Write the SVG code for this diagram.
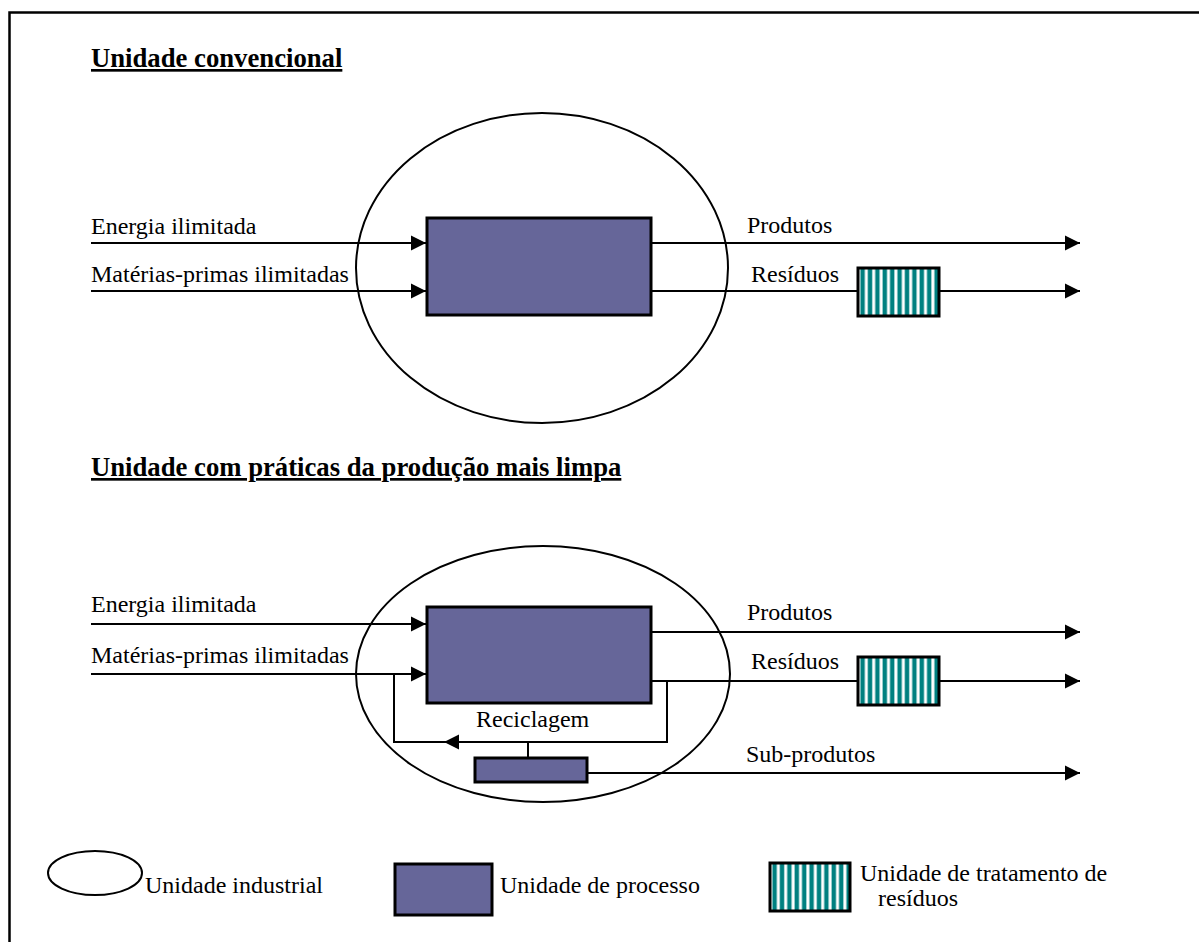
<svg xmlns="http://www.w3.org/2000/svg" width="1199" height="942" viewBox="0 0 1199 942">
  <style>
    .t { font-family: "Liberation Serif", "Times New Roman", serif; font-size: 24px; fill: #000; }
    .h { font-family: "Liberation Serif", "Times New Roman", serif; font-size: 26.7px; font-weight: bold; fill: #000; text-decoration: underline; }
    .ln { fill: none; stroke: #000; stroke-width: 2; }
    .arr { fill: none; stroke: #000; stroke-width: 2; marker-end: url(#ah); }
    .unit { fill: none; stroke: #000; stroke-width: 2; }
    .proc { fill: #666699; stroke: #000; stroke-width: 3; }
    .treat { fill: url(#stripes); stroke: #000; stroke-width: 3; }
  </style>
  <defs>
    <marker id="ah" markerUnits="userSpaceOnUse" markerWidth="16" markerHeight="16" refX="15" refY="8" orient="auto">
      <path d="M0,0.5 L15,8 L0,15.5 z" fill="#000"/>
    </marker>
    <pattern id="stripes" patternUnits="userSpaceOnUse" x="858" y="0" width="7.4" height="10">
      <rect width="7.4" height="10" fill="#fff"/>
      <rect x="2.4" width="4.4" height="10" fill="#008080"/>
    </pattern>
    <pattern id="stripesL" patternUnits="userSpaceOnUse" x="770" y="0" width="7.4" height="10">
      <rect width="7.4" height="10" fill="#fff"/>
      <rect x="2.4" width="4.4" height="10" fill="#008080"/>
    </pattern>
  </defs>

  <rect width="1199" height="942" fill="#fff"/>

  <!-- frame: top and left edges -->
  <path d="M9.5,942 V12.5 H1199" fill="none" stroke="#000" stroke-width="2.5"/>

  <!-- section titles -->
  <text class="h" x="91" y="67">Unidade convencional</text>
  <text class="h" x="91" y="476">Unidade com práticas da produção mais limpa</text>

  <!-- conventional unit -->
  <g id="unit-conventional">
    <ellipse class="unit" cx="542" cy="268" rx="186" ry="155"/>
  </g>
  <g id="process-conventional">
    <rect class="proc" x="427" y="218" width="224" height="97"/>
  </g>
  <g id="treatment-conventional">
    <rect class="treat" x="858" y="268" width="81" height="48"/>
  </g>

  <!-- cleaner-production unit -->
  <g id="unit-clean">
    <ellipse class="unit" cx="543" cy="674" rx="187" ry="128"/>
  </g>
  <g id="process-clean">
    <rect class="proc" x="427" y="607" width="224" height="96"/>
  </g>
  <g id="treatment-clean">
    <rect class="treat" x="858" y="657" width="81" height="48"/>
  </g>
  <g id="byproduct-unit">
    <rect class="proc" x="475" y="758" width="112" height="24" stroke-width="2.5"/>
  </g>

  <!-- connectors -->
  <g id="connectors">
    <!-- conventional flows -->
    <path class="arr" d="M91,243 H426"/>
    <path class="arr" d="M91,291 H426"/>
    <path class="arr" d="M652,243 H1080"/>
    <path class="ln" d="M652,291 H858"/>
    <path class="arr" d="M939,291 H1080"/>

    <!-- cleaner-production flows -->
    <path class="arr" d="M91,624 H426"/>
    <path class="arr" d="M91,674 H426"/>
    <path class="arr" d="M652,632 H1080"/>
    <path class="ln" d="M652,681 H858"/>
    <path class="arr" d="M939,681 H1080"/>

    <!-- recycling loop -->
    <path class="arr" d="M667,681 V742 H444"/>
    <path class="ln" d="M445,742 H394 V674"/>
    <path class="ln" d="M528,742 V758"/>

    <!-- by-products -->
    <path class="arr" d="M587,773 H1080"/>
  </g>

  <!-- flow labels -->
  <text class="t" x="91" y="234">Energia ilimitada</text>
  <text class="t" x="91" y="282">Matérias-primas ilimitadas</text>
  <text class="t" x="747" y="233">Produtos</text>
  <text class="t" x="751" y="282">Resíduos</text>

  <text class="t" x="91" y="612">Energia ilimitada</text>
  <text class="t" x="91" y="663">Matérias-primas ilimitadas</text>
  <text class="t" x="747" y="620">Produtos</text>
  <text class="t" x="751" y="669">Resíduos</text>
  <text class="t" x="476" y="727">Reciclagem</text>
  <text class="t" x="746" y="762">Sub-produtos</text>

  <!-- legend -->
  <g id="legend-unit">
    <ellipse class="unit" cx="95" cy="873" rx="47" ry="22"/>
    <text class="t" x="145" y="893">Unidade industrial</text>
  </g>
  <g id="legend-process">
    <rect class="proc" x="395" y="864" width="97" height="51"/>
    <text class="t" x="500" y="893">Unidade de processo</text>
  </g>
  <g id="legend-treatment">
    <rect x="770" y="863" width="80" height="48" fill="url(#stripesL)" stroke="#000" stroke-width="3"/>
    <text class="t" x="860" y="881">Unidade de tratamento de</text>
    <text class="t" x="878" y="906">resíduos</text>
  </g>
</svg>
